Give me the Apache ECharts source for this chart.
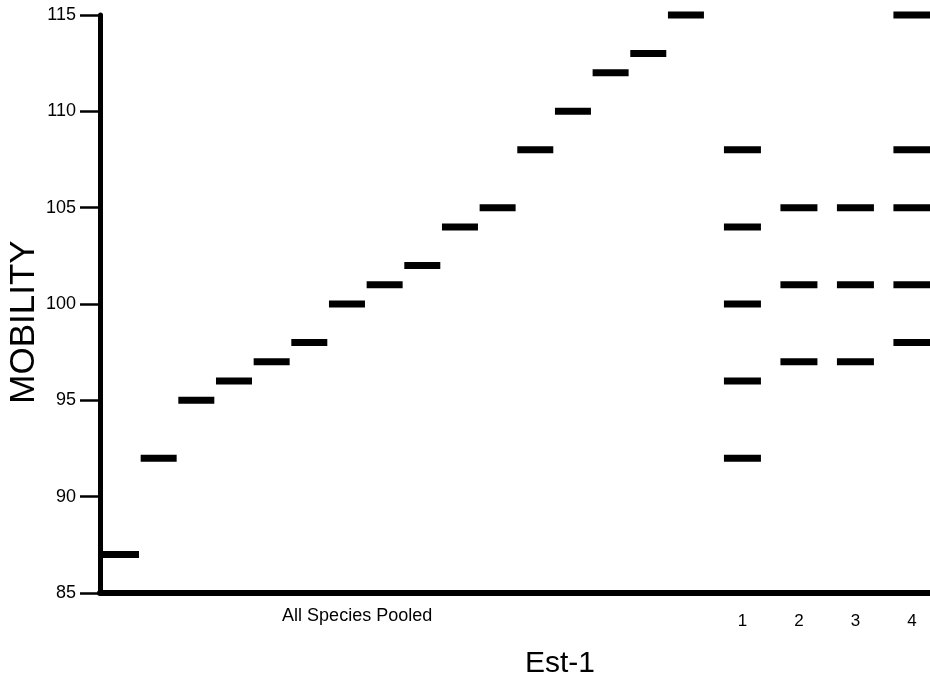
<!DOCTYPE html>
<html>
<head>
<meta charset="utf-8">
<script src="https://cdn.jsdelivr.net/npm/echarts@6/dist/echarts.min.js"></script>
<style>html,body{margin:0;padding:0;background:#fff;}#c{width:930px;height:689px;}</style>
</head>
<body>
<div id="c"></div>
<script>
// Data
const pooledValues = [87, 92, 95, 96, 97, 98, 100, 101, 102, 104, 105, 108, 110, 112, 113, 115];
const pooledLabel = 'All Species Pooled';
const groupLabels = ['1', '2', '3', '4'];
const group1 = [92, 96, 100, 104, 108];
const group2 = [97, 101, 105];
const group3 = [97, 101, 105];
const group4 = [98, 101, 105, 108, 115];
const yTicks = [85, 90, 95, 100, 105, 110, 115];
const yTitle = 'MOBILITY';
const xTitle = 'Est-1';

const groups = [group1, group2, group3, group4];
const FONT = 'Liberation Sans, Arial, sans-serif';

// layout positions (slot units along a hidden value axis)
const pooledX = i => i + 1;
const groupX = g => 17.5 + 1.5 * g;
const pooledLabelX = 7.27;

const pooledData = pooledValues.map((v, i) => [pooledX(i), v]);
const groupData = [];
groups.forEach((arr, g) => arr.forEach(v => groupData.push([groupX(g), v])));

const labelMap = [[pooledLabelX, pooledLabel]].concat(groupLabels.map((l, g) => [groupX(g), l]));

const chart = echarts.init(document.getElementById('c'));
chart.setOption({
  backgroundColor: '#fff',
  animation: false,
  grid: { left: 100, right: 0, top: 15, bottom: 96, containLabel: false, outerBoundsMode: 'none' },
  title: {
    text: xTitle,
    left: 555, top: 644,
    textAlign: 'center',
    textStyle: { fontFamily: FONT, fontSize: 30, fontWeight: 'normal', color: '#000' }
  },
  graphic: [{
    type: 'text',
    x: 24, y: 322,
    rotation: Math.PI / 2,
    style: {
      text: yTitle,
      fontFamily: FONT, fontSize: 35, fill: '#000',
      align: 'center', verticalAlign: 'middle'
    }
  }],
  xAxis: {
    type: 'value',
    min: 0.4425,
    max: 22.48,
    splitLine: { show: false },
    axisTick: { show: false },
    axisLine: { show: true, onZero: false, lineStyle: { color: '#000', width: 6 } },
    axisLabel: {
      customValues: labelMap.map(d => d[0]),
      margin: 14,
      color: '#000',
      fontFamily: FONT,
      formatter: function (val) {
        let best = labelMap[0], bd = Infinity;
        labelMap.forEach(d => { const dd = Math.abs(d[0] - val); if (dd < bd) { bd = dd; best = d; } });
        return best[1] === pooledLabel ? '{p|' + best[1] + '}' : '{n|' + best[1] + '}';
      },
      rich: {
        p: { fontSize: 18, fontFamily: FONT, color: '#000' },
        n: { fontSize: 17, fontFamily: FONT, color: '#000', padding: [6, 0, 0, 0] }
      }
    }
  },
  yAxis: {
    type: 'value',
    min: yTicks[0],
    max: yTicks[yTicks.length - 1],
    interval: 5,
    splitLine: { show: false },
    axisLine: { show: true, lineStyle: { color: '#000', width: 5 } },
    axisTick: { show: true, inside: false, length: 20, lineStyle: { color: '#000', width: 2.5 } },
    axisLabel: { margin: 24, color: '#000', fontFamily: FONT, fontSize: 18 }
  },
  series: [
    {
      type: 'scatter',
      symbol: 'rect',
      symbolSize: [36, 7],
      itemStyle: { color: '#000', opacity: 1 },
      data: pooledData
    },
    {
      type: 'scatter',
      symbol: 'rect',
      symbolSize: [37, 7],
      itemStyle: { color: '#000', opacity: 1 },
      data: groupData
    }
  ]
});
</script>
</body>
</html>
